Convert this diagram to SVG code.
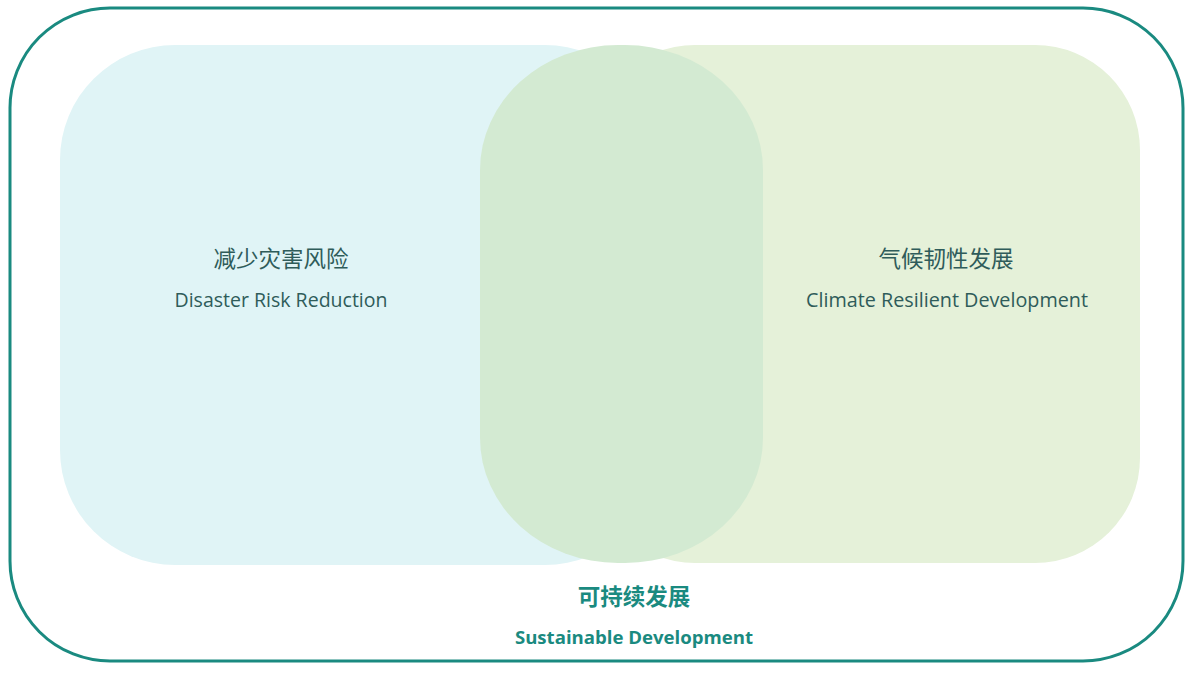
<svg xmlns="http://www.w3.org/2000/svg" width="1200" height="675" viewBox="0 0 1200 675">
<style>
.lbl{font-family:"Open Sans","Noto Sans","Noto Sans CJK SC",sans-serif;fill:#2F5C5A;text-anchor:middle}
.zh{font-size:22.5px}
.en{font-size:19.6px}
.sd{font-family:"Open Sans","Noto Sans","Noto Sans CJK SC",sans-serif;fill:#1A8A80;text-anchor:middle;font-weight:bold}
</style>
<rect width="1200" height="675" fill="#ffffff"/>
<g id="sustainable">
<rect x="10" y="8" width="1173" height="653" rx="100" ry="100" fill="#ffffff" stroke="#1A8A80" stroke-width="3"/>
<text class="sd" x="634" y="605" font-size="22.5">可持续发展</text>
<text class="sd" x="634" y="644" font-size="18.6">Sustainable Development</text>
</g>
<g id="drr">
<rect x="60" y="45" width="600" height="520" rx="115" ry="115" fill="#E0F4F6"/>
</g>
<g id="crd">
<rect x="590" y="45" width="550" height="518" rx="105" ry="105" fill="#E5F1D9"/>
</g>
<g id="overlap">
<rect x="480" y="45" width="283" height="518" rx="138" ry="125" fill="#D3EAD2"/>
</g>
<g id="labels">
<text class="lbl zh" x="281" y="267">减少灾害风险</text>
<text class="lbl en" x="281" y="307" textLength="213" lengthAdjust="spacingAndGlyphs">Disaster Risk Reduction</text>
<text class="lbl zh" x="946" y="267">气候韧性发展</text>
<text class="lbl en" x="947" y="307" textLength="282" lengthAdjust="spacingAndGlyphs">Climate Resilient Development</text>
</g>
</svg>
